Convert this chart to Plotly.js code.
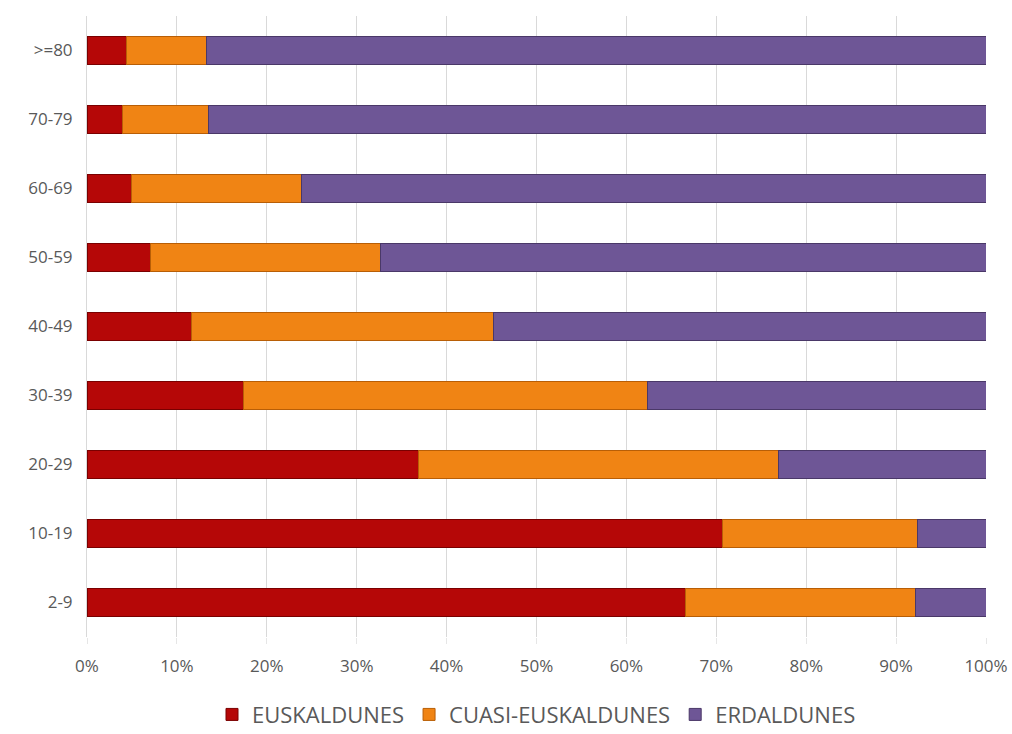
<!DOCTYPE html>
<html><head><meta charset="utf-8">
<script src="https://cdn.plot.ly/plotly-3.0.1.min.js"></script>
<style>body{margin:0;background:#fff}#chart{width:1012px;height:734px}</style>
</head><body><div id="chart"></div>
<script>
const categories = ['2-9','10-19','20-29','30-39','40-49','50-59','60-69','70-79','>=80'];
const euskaldunes = [66.6, 70.7, 36.9, 17.4, 11.6, 7.1, 4.9, 3.9, 4.4];
const cuasi = [25.6, 21.7, 40.0, 45.0, 33.6, 25.5, 19.0, 9.6, 8.9];
const erdaldunes = [7.8, 7.6, 23.1, 37.6, 54.8, 67.4, 76.1, 86.5, 86.7];
const seriesNames = ['EUSKALDUNES','CUASI-EUSKALDUNES','ERDALDUNES'];
const colors = ['#B50707','#F08414','#6E5696'];
const edges = ['#7a0000','#b85e06','#4a3868'];
const xTicks = [0,10,20,30,40,50,60,70,80,90,100];

const vals = [euskaldunes, cuasi, erdaldunes];
const traces = vals.map((v,i)=>({
  type:'bar', orientation:'h', y:categories, x:v, name:seriesNames[i],
  marker:{color:colors[i], line:{color:edges[i], width:1}},
  hoverinfo:'x+y+name'
}));

const layout = {
  width:1012, height:734,
  margin:{l:87, r:26, t:16, b:97, autoexpand:false},
  barmode:'stack', bargap:0.6,
  paper_bgcolor:'#fff', plot_bgcolor:'#fff',
  font:{family:'Open Sans, sans-serif', color:'#595959', size:17},
  xaxis:{range:[0,100], tickvals:xTicks, ticktext:xTicks.map(t=>t+'%'),
    showgrid:true, gridcolor:'#d9d9d9', gridwidth:1, zeroline:false,
    ticks:'outside', ticklen:6, tickcolor:'#e6e6e6', ticklabelstandoff:8,
    tickfont:{size:17, color:'#595959'}, showline:false, fixedrange:true, automargin:false},
  yaxis:{categoryorder:'array', categoryarray:categories, showgrid:false, zeroline:false,
    showline:true, linecolor:'#d9d9d9', linewidth:1, ticks:'', ticklabelstandoff:10,
    tickfont:{size:17, color:'#595959'}, automargin:false},
  legend:{orientation:'h', x:0.5, xanchor:'center', y:-0.125, yanchor:'middle',
    font:{size:22, color:'#595959'}, itemwidth:20, traceorder:'normal'},
  showlegend:true
};
Plotly.newPlot('chart', traces, layout, {displayModeBar:false, staticPlot:true});
</script></body></html>
